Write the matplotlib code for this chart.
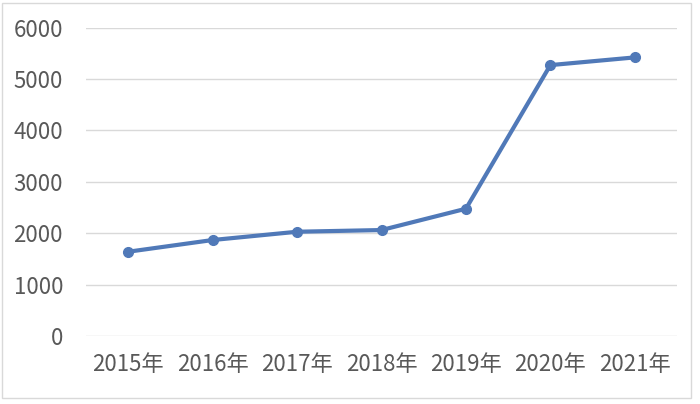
import matplotlib
matplotlib.use("Agg")
import matplotlib.pyplot as plt
from matplotlib.patches import Rectangle

plt.rcParams['font.family'] = ['Noto Sans CJK SC', 'DejaVu Sans']

years = ["2015年", "2016年", "2017年", "2018年", "2019年", "2020年", "2021年"]
values = [1640, 1868, 2029, 2062, 2477, 5272, 5422]
yticks = [0, 1000, 2000, 3000, 4000, 5000, 6000]

fig = plt.figure(figsize=(7.0, 4.04), dpi=100)
ax = fig.add_axes([86/700, 1-336/404, (677-86)/700, (336-27.7)/404])

x = list(range(len(years)))
ax.plot(x, values, color='#5079B8', linewidth=3.0, marker='o', markersize=7,
        solid_capstyle='round', zorder=3)

ax.set_xlim(-0.5, len(years) - 0.5)
ax.set_ylim(0, 6000)
ax.set_yticks(yticks)
ax.set_yticklabels([str(v) for v in yticks])
ax.set_xticks(x)
ax.set_xticklabels(years)

ax.grid(axis='y', color='#D9D9D9', linewidth=1.0)
ax.set_axisbelow(True)
for s in ax.spines.values():
    s.set_visible(False)
ax.tick_params(axis='both', length=0, colors='#595959', labelsize=16)
ax.tick_params(axis='y', pad=16.5)
ax.tick_params(axis='x', pad=12)

fig.patches.append(Rectangle((2/700, 6/404), 689/700, 395/404, transform=fig.transFigure,
                             fill=False, edgecolor='#D9D9D9', linewidth=1.0))

fig.savefig("out.png", dpi=100)
